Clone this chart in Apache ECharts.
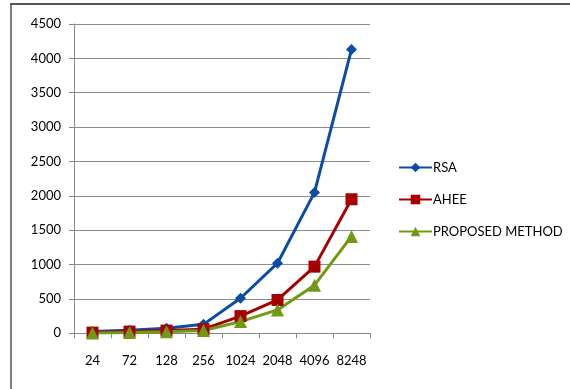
<!DOCTYPE html>
<html>
<head>
<meta charset="utf-8">
<style>
  html, body { margin: 0; padding: 0; background: #fff; }
  #chart { width: 570px; height: 389px; }
</style>
<script src="https://cdn.jsdelivr.net/npm/echarts@6/dist/echarts.min.js"></script>
</head>
<body>
<div id="chart"></div>
<script>
// data
var sizes = ['24', '72', '128', '256', '1024', '2048', '4096', '8248'];
var rsa = [25, 45, 75, 130, 510, 1020, 2050, 4130];
var ahee = [10, 25, 40, 60, 250, 485, 970, 1950];
var proposed = [5, 12, 22, 40, 170, 340, 700, 1410];
var yTicks = [0, 500, 1000, 1500, 2000, 2500, 3000, 3500, 4000, 4500];

var font = 'Lato, "Open Sans", sans-serif';

function line(name, data, color, symbol, size) {
    return {
        name: name,
        type: 'line',
        data: data,
        symbol: symbol,
        symbolSize: size,
        showSymbol: true,
        lineStyle: { color: color, width: 3 },
        itemStyle: { color: color },
        emphasis: { disabled: true }
    };
}

var myChart = echarts.init(document.getElementById('chart'));
myChart.setOption({
    animation: false,
    backgroundColor: '#fff',
    grid: { left: 74, top: 24, width: 296, height: 309.3, containLabel: false },
    legend: {
        orient: 'vertical',
        left: 393,
        top: 156,
        itemGap: 19,
        itemWidth: 33,
        itemHeight: 12,
        textStyle: { fontFamily: font, fontSize: 13, color: '#000', padding: [0, 0, 0, -4] },
        data: ['RSA', 'AHEE', 'PROPOSED METHOD']
    },
    xAxis: {
        type: 'category',
        data: sizes,
        boundaryGap: true,
        axisLine: { lineStyle: { color: '#888', width: 1 } },
        axisTick: { show: true, length: 5, lineStyle: { color: '#888' } },
        axisLabel: { interval: 0, fontFamily: font, fontSize: 13, color: '#000', margin: 21 }
    },
    yAxis: {
        type: 'value',
        min: yTicks[0],
        max: yTicks[yTicks.length - 1],
        interval: 500,
        axisLine: { show: true, lineStyle: { color: '#888', width: 1 } },
        axisTick: { show: true, length: 5, lineStyle: { color: '#888' } },
        splitLine: { lineStyle: { color: '#8c8c8c', width: 1 } },
        axisLabel: {
            fontFamily: font, fontSize: 13, color: '#000', margin: 13,
            formatter: function (v) { return String(v); }
        }
    },
    series: [
        line('RSA', rsa, '#0a4da6', 'diamond', 11),
        line('AHEE', ahee, '#a80000', 'rect', 12),
        line('PROPOSED METHOD', proposed, '#6f9a12', 'triangle', 13)
    ],
    graphic: [
        { type: 'line', shape: { x1: 10, y1: 4, x2: 570, y2: 4 }, style: { stroke: '#555', lineWidth: 2 } },
        { type: 'line', shape: { x1: 11, y1: 4, x2: 11, y2: 389 }, style: { stroke: '#555', lineWidth: 1.5 } }
    ]
});
</script>
</body>
</html>
